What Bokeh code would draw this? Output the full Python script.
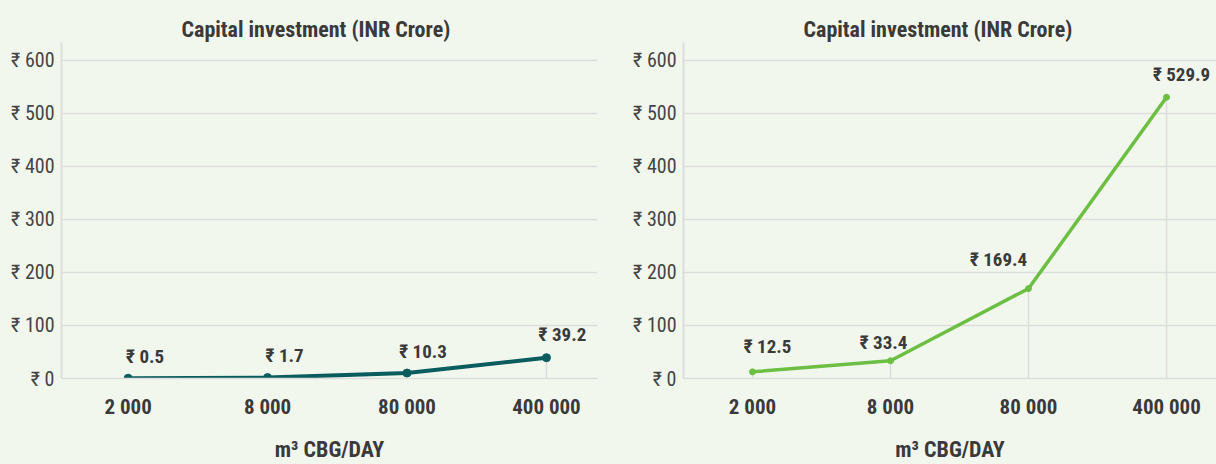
from bokeh.plotting import figure
from bokeh.layouts import row
from bokeh.embed import file_html
from bokeh.resources import INLINE
from bokeh.models import ColumnDataSource, FixedTicker, PrintfTickFormatter, GlobalInlineStyleSheet
from bokeh.core.properties import value

# ---- data ----
capacity = ["2 000", "8 000", "80 000", "400 000"]
capex_small = [0.5, 1.7, 10.3, 39.2]
capex_large = [12.5, 33.4, 169.4, 529.9]
y_ticks = [0, 100, 200, 300, 400, 500, 600]
chart_title = "Capital investment (INR Crore)"
x_title = "m³ CBG/DAY"

# ---- label placement (style, screen px) ----
small_label_dx = [17, 17, 16, 16]
small_label_dy = [-22, -22, -22, -23]
large_label_dx = [15, -7, -30, 15]
large_label_dy = [-25, -18, -29, -23]

BG = "#f2f7ee"
GRID = "#dddddd"
TXT = "#3a3a3a"
FONT = "Roboto Condensed"


def make_chart(values, color, lw, msize, dx, dy, x_rng, width, border_left, border_right, title_offset):
    idx = list(range(len(capacity)))
    src = ColumnDataSource(dict(
        x=idx, y=values, y0=[0] * len(values),
        label=[f"₹ {v}" for v in values], dx=dx, dy=dy,
    ))
    p = figure(width=width, height=464, output_backend="svg", toolbar_location=None,
               x_range=x_rng, y_range=(0, 633),
               min_border_left=border_left, min_border_right=border_right,
               min_border_top=42, min_border_bottom=85)
    p.background_fill_color = BG
    p.border_fill_color = BG
    p.outline_line_color = None

    # title
    p.title.text = chart_title
    p.title.align = "left"
    p.title.text_font = FONT
    p.title.text_font_size = "22px"
    p.title.text_font_style = "bold"
    p.title.text_color = TXT
    p.title.offset = title_offset
    p.title.standoff = 1

    # grids
    p.xgrid.grid_line_color = None
    p.ygrid.grid_line_color = GRID
    p.ygrid.grid_line_width = 1.5
    p.ygrid.ticker = FixedTicker(ticks=y_ticks)

    # y axis
    ya = p.yaxis[0]
    ya.ticker = FixedTicker(ticks=y_ticks)
    ya.formatter = PrintfTickFormatter(format="₹ %d")
    ya.axis_line_color = GRID
    ya.axis_line_width = 2
    ya.major_tick_line_color = None
    ya.minor_tick_line_color = None
    ya.major_tick_out = 0
    ya.major_label_standoff = 7
    ya.major_label_text_font = FONT
    ya.major_label_text_font_size = "20px"
    ya.major_label_text_color = "#444444"

    # x axis
    xa = p.xaxis[0]
    xa.ticker = FixedTicker(ticks=idx)
    xa.major_label_overrides = {i: c for i, c in enumerate(capacity)}
    xa.axis_line_color = GRID
    xa.axis_line_width = 1.5
    xa.major_tick_line_color = None
    xa.minor_tick_line_color = None
    xa.major_tick_out = 0
    xa.major_label_standoff = 16
    xa.major_label_text_font = FONT
    xa.major_label_text_font_size = "21px"
    xa.major_label_text_font_style = "bold"
    xa.major_label_text_color = TXT
    xa.axis_label = x_title
    xa.axis_label_standoff = 15
    xa.axis_label_text_font = FONT
    xa.axis_label_text_font_size = "22px"
    xa.axis_label_text_font_style = "bold"
    xa.axis_label_text_color = TXT

    # drop lines, line, markers, labels
    p.segment(x0="x", y0="y0", x1="x", y1="y", source=src, line_color=GRID, line_width=1.5)
    p.line(x="x", y="y", source=src, line_color=color, line_width=lw)
    p.scatter(x="x", y="y", source=src, size=msize, fill_color=color, line_color=color)
    p.text(x="x", y="y", text="label", source=src, x_offset="dx", y_offset="dy",
           text_align="center", text_baseline="middle",
           text_font=value(FONT), text_font_size="19px", text_font_style="bold",
           text_color=TXT)
    return p


left = make_chart(capex_small, "#0b5c5e", 4, 8, small_label_dx, small_label_dy,
                  (-0.478, 3.366), 608, 61, 11, 120)
right = make_chart(capex_large, "#6cbf42", 3.5, 6, large_label_dx, large_label_dy,
                   (-0.5, 3.362), 608, 75, 0, 120)

layout = row(left, right, spacing=0,
             stylesheets=[GlobalInlineStyleSheet(css=f"body {{ background: {BG}; }}")])
p = layout
open("out.html", "w").write(file_html(p, INLINE))
